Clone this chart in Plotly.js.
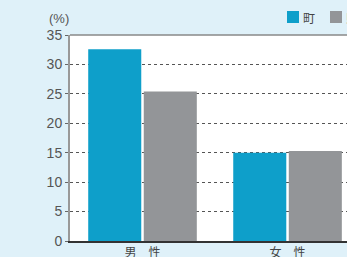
<!DOCTYPE html>
<html><head><meta charset="utf-8">
<script src="https://cdn.plot.ly/plotly-3.0.1.min.js"></script>
<style>html,body{margin:0;padding:0;background:#dff1f9;overflow:hidden}</style>
</head><body><div id="chart" style="width:347px;height:257px"></div>
<script>
const categories = ["男　性", "女　性"];
const seriesNames = ["町", "県"];
const townValues = [32.6, 15.0];
const prefValues = [25.4, 15.3];
const yTicks = [0, 5, 10, 15, 20, 25, 30, 35];

const traces = [
  {type: "bar", name: seriesNames[0], x: categories, y: townValues, marker: {color: "#0e9fca"}, showlegend: false, hoverinfo: "none"},
  {type: "bar", name: seriesNames[1], x: categories, y: prefValues, marker: {color: "#939598"}, showlegend: false, hoverinfo: "none"}
];

function py(pix){ return (257 - 16 - pix) / 206; }
function px(pix){ return (pix - 70) / 277; }

const layout = {
  width: 347, height: 257,
  margin: {l: 70, r: 0, t: 35, b: 16},
  paper_bgcolor: "#dff1f9",
  plot_bgcolor: "#ffffff",
  barmode: "group",
  bargap: 0.234,
  bargroupgap: 0.045,
  font: {family: "Liberation Sans, Arial, sans-serif", color: "#555555"},
  xaxis: {
    type: "category", range: [-0.5, 1.41],
    showgrid: false, zeroline: false,
    showline: true, linecolor: "#333333", linewidth: 2,
    ticks: "", tickfont: {size: 12, color: "#444444", family: "Noto Sans CJK JP"},
    fixedrange: true
  },
  yaxis: {
    range: [0, 35], tickvals: yTicks, ticktext: yTicks.map(String),
    showgrid: true, gridcolor: "#555555", griddash: "dot", gridwidth: 1,
    zeroline: false, showline: true, linecolor: "#999999", linewidth: 2,
    ticks: "outside", ticklen: 3, tickcolor: "#666666",
    tickfont: {size: 14, color: "#555555"},
    fixedrange: true
  },
  shapes: [
    {type: "line", xref: "paper", yref: "paper", x0: 0, x1: 1, y0: 1, y1: 1, line: {color: "#888888", width: 1.5}},
    {type: "rect", xref: "paper", yref: "paper", x0: px(287), x1: px(299), y0: py(23), y1: py(11), line: {width: 0}, fillcolor: "#0e9fca"},
    {type: "rect", xref: "paper", yref: "paper", x0: px(330), x1: px(342), y0: py(23), y1: py(11), line: {width: 0}, fillcolor: "#939598"}
  ],
  annotations: [
    {xref: "paper", yref: "paper", x: px(70), y: py(18), xanchor: "right", yanchor: "middle", text: "(%)", showarrow: false, borderpad: 0, font: {size: 13, color: "#555555"}},
    {xref: "paper", yref: "paper", x: px(301), y: py(17), xanchor: "left", yanchor: "middle", text: seriesNames[0], showarrow: false, font: {size: 12, color: "#444444", family: "Noto Sans CJK JP"}},
    {xref: "paper", yref: "paper", x: px(344), y: py(17), xanchor: "left", yanchor: "middle", text: seriesNames[1], showarrow: false, font: {size: 12, color: "#444444", family: "Noto Sans CJK JP"}}
  ]
};

Plotly.newPlot("chart", traces, layout, {displayModeBar: false, staticPlot: true});
</script></body></html>
